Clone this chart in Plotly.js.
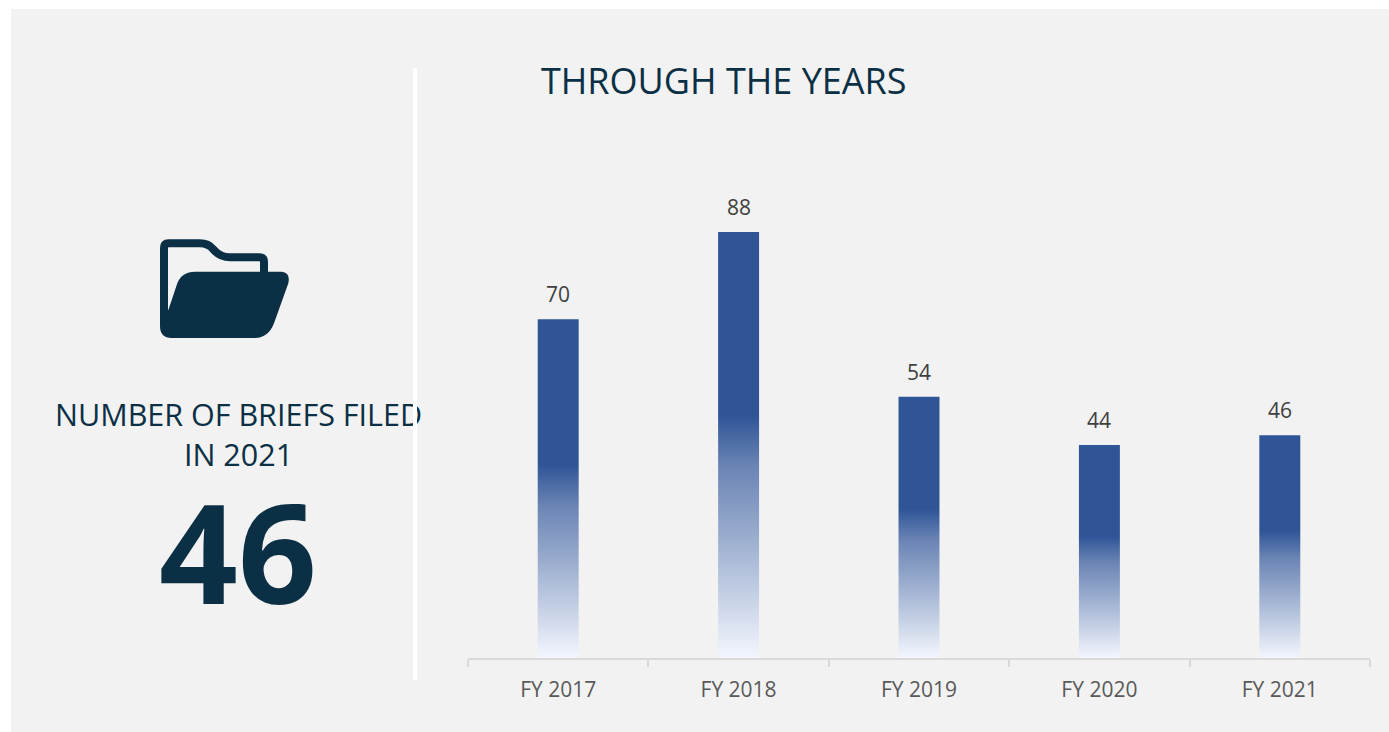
<!DOCTYPE html>
<html>
<head>
<meta charset="utf-8">
<script src="https://cdn.plot.ly/plotly-3.0.1.min.js"></script>
<style>html,body{margin:0;padding:0;background:#fff;overflow:hidden}#chart{width:1389px;height:732px}</style>
</head>
<body>
<div id="chart"></div>
<script>
const categories = ["FY 2017", "FY 2018", "FY 2019", "FY 2020", "FY 2021"];
const briefsFiled = [70, 88, 54, 44, 46];
const headline = "46";
const headlineLabel = "NUMBER OF BRIEFS FILED<br>IN 2021";
const chartTitle = "THROUGH THE YEARS";

const W = 1389, H = 732;
const plotL = 468, plotR = 1370, plotT = 174, plotB = 658;
const pw = plotR - plotL, ph = plotB - plotT;
const fx = p => (p - plotL) / pw;
const fy = p => (plotB - p) / ph;
const NAVY = "#0b3045", FONT = '"Open Sans", "Noto Sans", sans-serif';

// icon drawn in a local 3x grid, converted to pixels relative to its anchor
const iconPath = (s) => s.replace(/(-?[\d.]+),(-?[\d.]+)/g, (m, a, b) => (a / 3).toFixed(2) + "," + (-b / 3).toFixed(2));
const folderBack = iconPath("M72,290 L72,84 Q72,70 86,70 L180,70 Q205,70 220,88 Q240,112 270,112 L358,112 Q372,112 372,126 L372,170");
const folderFront = iconPath("M60,270 L85,270 L112,190 Q125,155 165,155 L425,155 Q452,157 445,190 L402,310 Q385,354 345,354 L95,354 Q60,354 60,318 Z");
const iconAnchor = {xref: "paper", yref: "paper", xsizemode: "pixel", ysizemode: "pixel", xanchor: fx(140), yanchor: fy(220)};

const trace = {
  type: "bar",
  x: categories,
  y: briefsFiled,
  width: 0.227,
  marker: {color: "#2f5597", line: {width: 0}},
  hoverinfo: "x+y"
};

const annotations = briefsFiled.map((v, i) => ({
  xref: "x", yref: "y", x: categories[i], y: v, text: String(v), showarrow: false,
  yanchor: "bottom", yshift: 9, font: {family: FONT, size: 21, color: "#404040"}
}));
annotations.push(
  {xref: "paper", yref: "paper", x: fx(238), y: fy(433.5), text: headlineLabel, showarrow: false, align: "center",
   xanchor: "center", yanchor: "middle", font: {family: FONT, size: 30.5, color: NAVY}},
  {xref: "paper", yref: "paper", x: fx(238.5), y: fy(550), text: headline, showarrow: false,
   xanchor: "center", yanchor: "middle", font: {family: FONT, size: 138, color: NAVY, weight: 700}},
  {xref: "paper", yref: "paper", x: fx(539), y: fy(80.5), text: chartTitle, showarrow: false,
   xanchor: "left", yanchor: "middle", font: {family: FONT, size: 36, color: NAVY}},
  {xref: "paper", yref: "paper", x: fx(415), y: fy(374), text: " ", showarrow: false,
   xanchor: "center", yanchor: "middle", width: 4, height: 612, borderpad: 0, borderwidth: 0, bgcolor: "#ffffff", font: {size: 10}}
);

const layout = {
  width: W, height: H,
  margin: {l: plotL, r: W - plotR, t: plotT, b: H - plotB, pad: 0},
  paper_bgcolor: "#ffffff",
  plot_bgcolor: "rgba(0,0,0,0)",
  showlegend: false,
  bargap: 0.773,
  font: {family: FONT},
  xaxis: {
    type: "category", tickson: "boundaries", ticks: "outside", ticklen: 7, tickwidth: 2, tickcolor: "#d9d9d9",
    showline: true, linecolor: "#d9d9d9", linewidth: 2, showgrid: false, zeroline: false,
    ticklabelstandoff: 12,
    tickfont: {family: FONT, size: 21, color: "#595959"}, automargin: false
  },
  yaxis: {range: [0, ph / 4.84], visible: false, fixedrange: true, showgrid: false, zeroline: false},
  shapes: [
    {type: "rect", xref: "paper", yref: "paper", x0: fx(11), x1: fx(1389), y0: fy(9), y1: fy(732),
      fillcolor: "#f2f2f2", line: {width: 0}, layer: "below"},
    Object.assign({}, iconAnchor, {type: "path", path: folderBack, fillcolor: "rgba(0,0,0,0)", line: {color: NAVY, width: 8}, layer: "above"}),
    Object.assign({}, iconAnchor, {type: "path", path: folderFront, fillcolor: NAVY, line: {width: 0}, layer: "above"})
  ],
  annotations
};

function applyGradient(gd) {
  const svg = gd.querySelector(".main-svg");
  const NS = "http://www.w3.org/2000/svg";
  if (!document.getElementById("barFade")) {
    const defs = svg.querySelector("defs") || svg.insertBefore(document.createElementNS(NS, "defs"), svg.firstChild);
    const g = document.createElementNS(NS, "linearGradient");
    g.setAttribute("id", "barFade");
    g.setAttribute("x1", "0"); g.setAttribute("y1", "0"); g.setAttribute("x2", "0"); g.setAttribute("y2", "1");
    [[0, "#2f5597"], [0.43, "#2f5597"], [0.55, "#6a84b4"], [0.8, "#b4c2dc"], [1, "#f3f6fd"]].forEach(([o, c]) => {
      const s = document.createElementNS(NS, "stop");
      s.setAttribute("offset", o); s.setAttribute("stop-color", c);
      g.appendChild(s);
    });
    defs.appendChild(g);
  }
  gd.querySelectorAll(".barlayer .point path").forEach(p => { p.style.fill = "url(#barFade)"; });
}

const gd = document.getElementById("chart");
Plotly.newPlot(gd, [trace], layout, {displayModeBar: false, staticPlot: true}).then(() => {
  applyGradient(gd);
  gd.on("plotly_afterplot", () => applyGradient(gd));
});
</script>
</body>
</html>
